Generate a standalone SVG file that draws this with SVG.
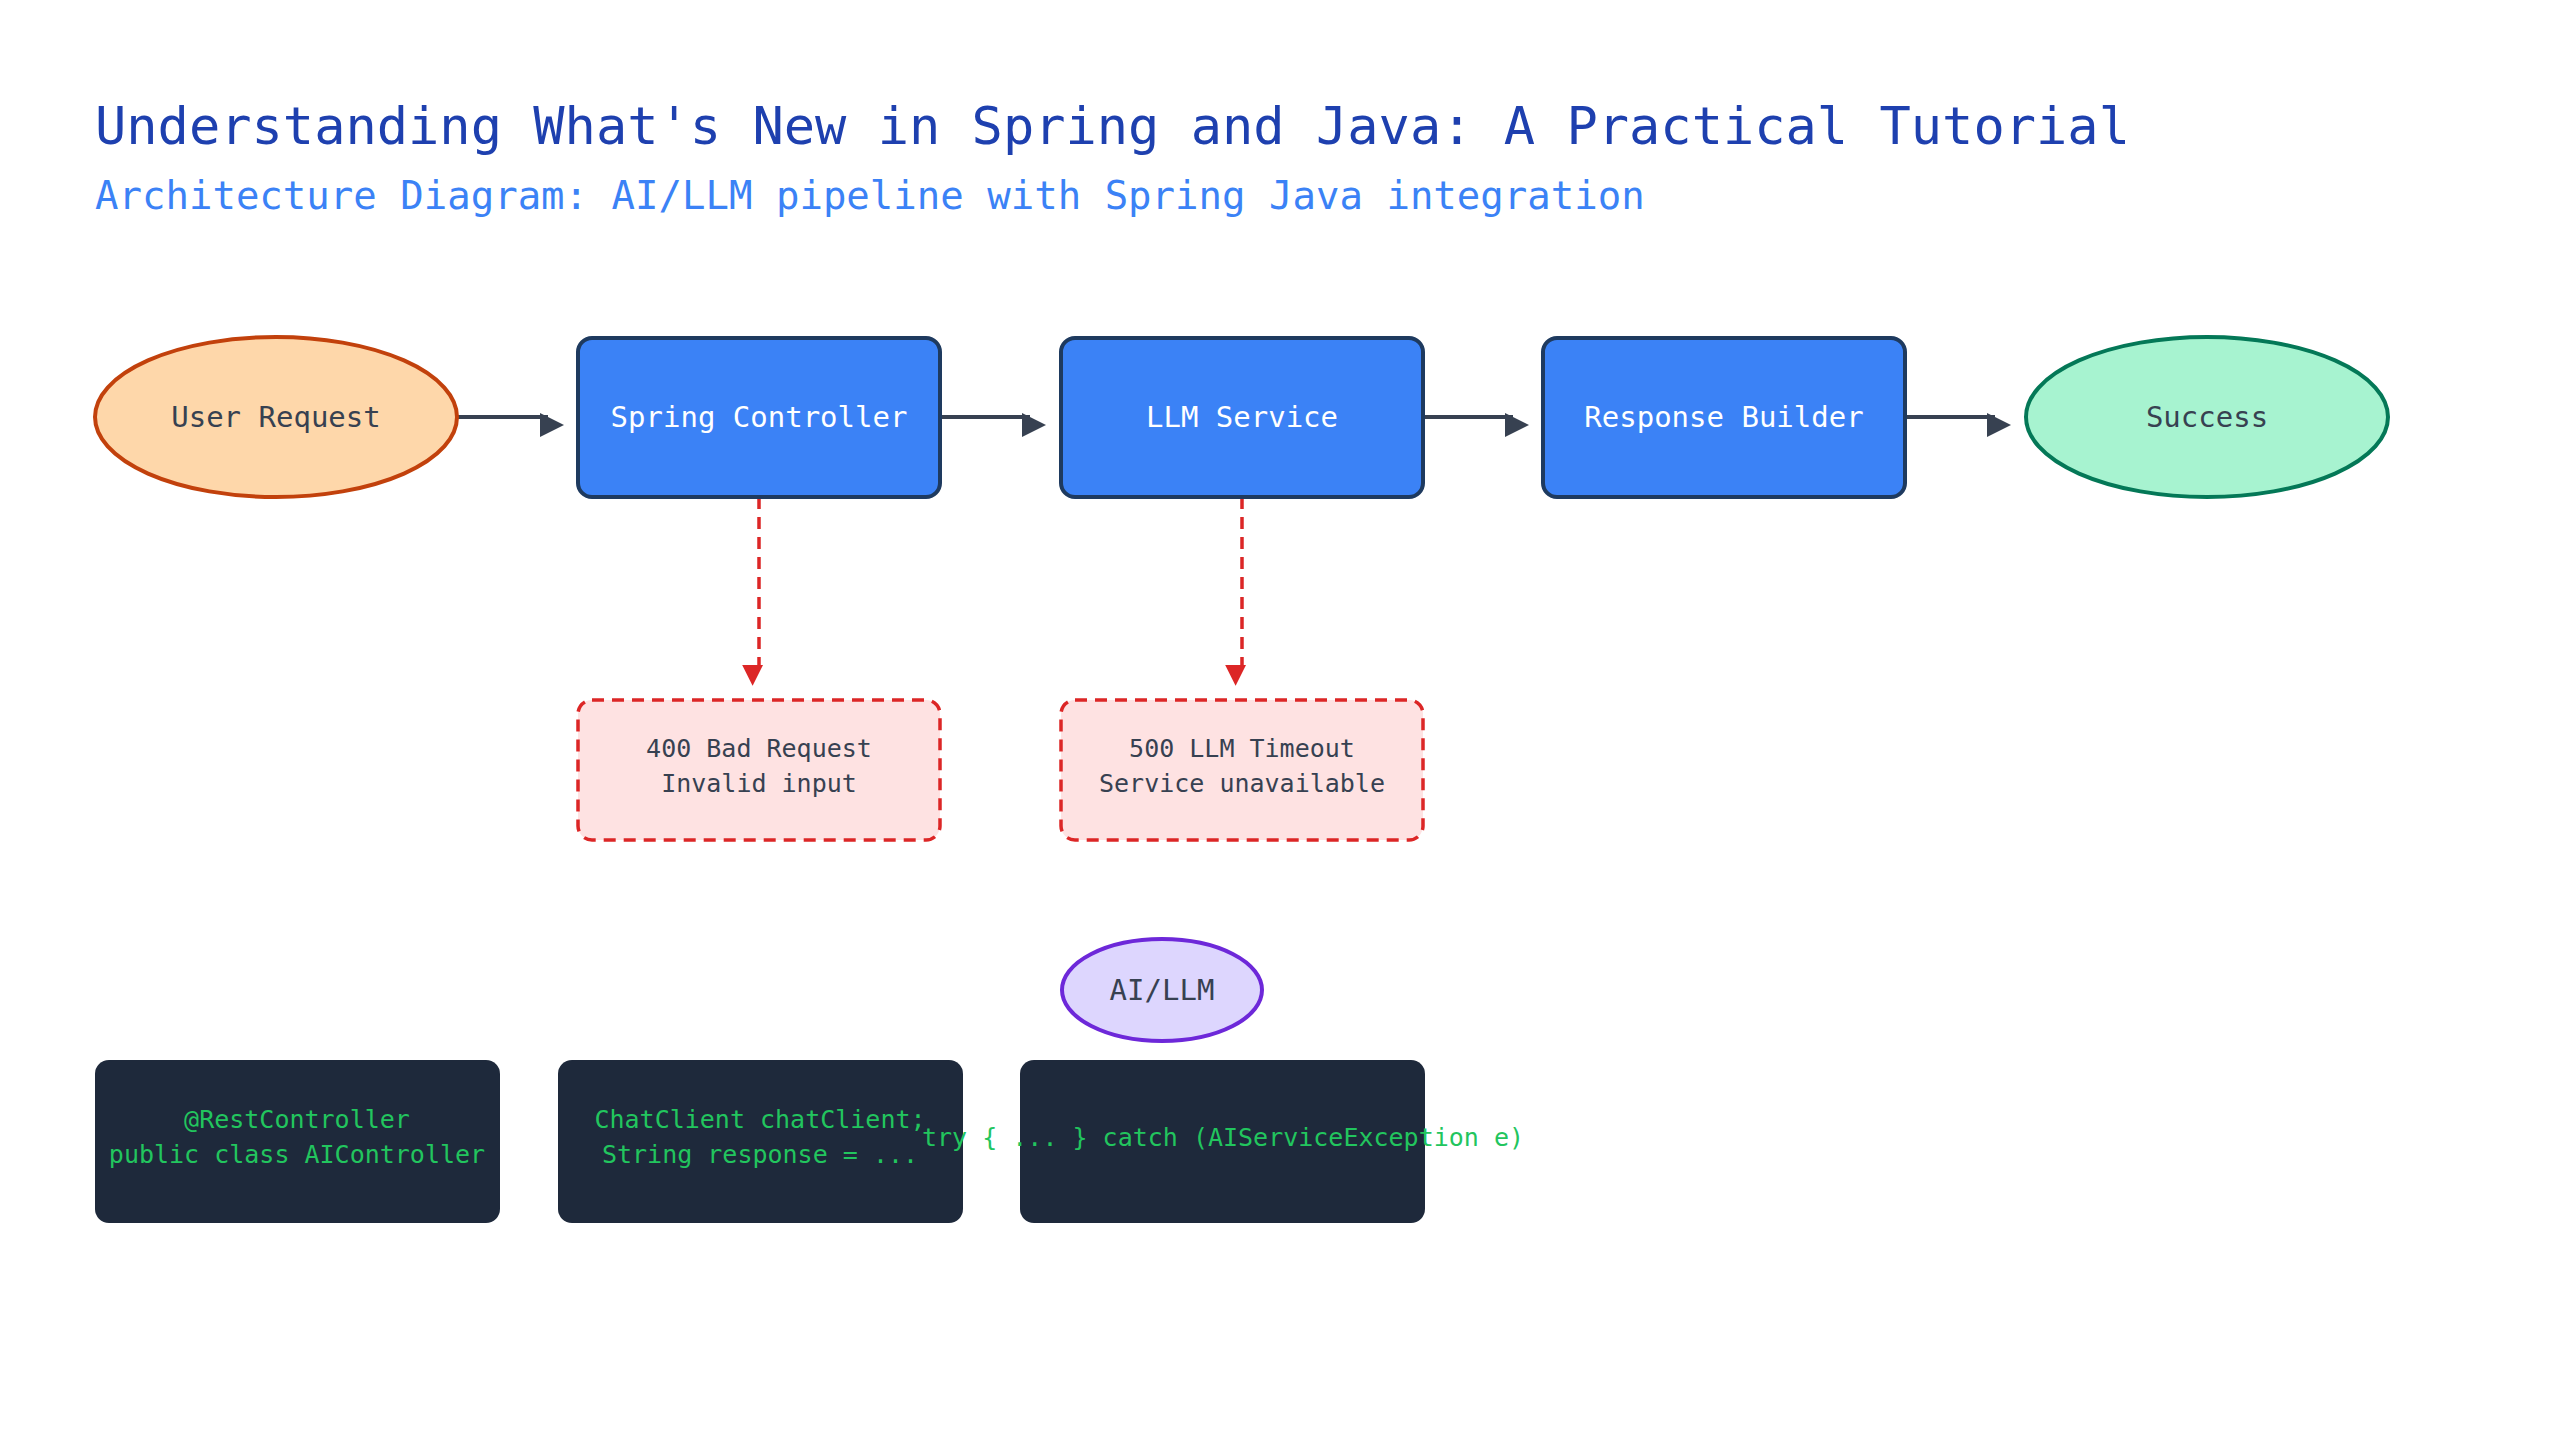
<svg xmlns="http://www.w3.org/2000/svg" width="2560" height="1440" viewBox="0 0 2560 1440">
<style>
text{font-family:"DejaVu Sans Mono","Liberation Mono",monospace;text-anchor:middle}
.t{fill:#374151;font-size:29px}
.w{fill:#ffffff;font-size:29px}
.e{fill:#374151;font-size:25px}
.c{fill:#22c55e;font-size:25px}
.proc{fill:#3b82f6;stroke:#1e3a5f;stroke-width:4}
.err{fill:#fee2e2;stroke:#dc2626;stroke-width:3.5;stroke-dasharray:12 8}
.code{fill:#1e293b}
.flow{stroke:#374151;stroke-width:4;fill:none}
.fail{stroke:#dc2626;stroke-width:3.5;stroke-dasharray:12 8;fill:none}
</style>
<defs>
<marker id="a" viewBox="0 0 10 10" refX="10" refY="5" markerWidth="8" markerHeight="8" markerUnits="userSpaceOnUse" orient="auto" style="overflow:visible"><path d="M0,0L10,5L0,10z" fill="#374151" transform="scale(3)" /></marker>
<marker id="r" viewBox="0 0 10 10" refX="10" refY="5" markerWidth="8" markerHeight="8" markerUnits="userSpaceOnUse" orient="auto" style="overflow:visible"><path d="M0,0L10,5L0,10z" fill="#dc2626" transform="scale(2.6)" /></marker>
</defs>
<rect width="2560" height="1440" fill="#ffffff"/>
<text x="95" y="144" style="text-anchor:start;font-size:52px;fill:#1e40af">Understanding What's New in Spring and Java: A Practical Tutorial</text>
<text x="95" y="209" style="text-anchor:start;font-size:39px;fill:#3b82f6">Architecture Diagram: AI/LLM pipeline with Spring Java integration</text>
<g id="connectors">
<path class="flow" d="M458,417H548" marker-end="url(#a)"/>
<path class="flow" d="M940,417H1030" marker-end="url(#a)"/>
<path class="flow" d="M1423,417H1513" marker-end="url(#a)"/>
<path class="flow" d="M1905,417H1995" marker-end="url(#a)"/>
<path class="fail" d="M759,497V673" marker-end="url(#r)"/>
<path class="fail" d="M1242,497V673" marker-end="url(#r)"/>
</g>
<g id="user"><ellipse cx="276" cy="417" rx="181" ry="80" fill="#fed7aa" stroke="#c2410c" stroke-width="4"/><text class="t" x="276" y="427">User Request</text></g>
<g id="controller"><rect class="proc" x="578" y="338" width="362" height="159" rx="14"/><text class="w" x="759" y="427">Spring Controller</text></g>
<g id="llm"><rect class="proc" x="1061" y="338" width="362" height="159" rx="14"/><text class="w" x="1242" y="427">LLM Service</text></g>
<g id="builder"><rect class="proc" x="1543" y="338" width="362" height="159" rx="14"/><text class="w" x="1724" y="427">Response Builder</text></g>
<g id="success"><ellipse cx="2207" cy="417" rx="181" ry="80" fill="#a7f3d0" stroke="#047857" stroke-width="4"/><text class="t" x="2207" y="427">Success</text></g>
<g id="err400"><rect class="err" x="578" y="700" width="362" height="140" rx="14"/><text class="e" x="759" y="757">400 Bad Request</text><text class="e" x="759" y="792">Invalid input</text></g>
<g id="err500"><rect class="err" x="1061" y="700" width="362" height="140" rx="14"/><text class="e" x="1242" y="757">500 LLM Timeout</text><text class="e" x="1242" y="792">Service unavailable</text></g>
<g id="ai"><ellipse cx="1162" cy="990" rx="100" ry="51" fill="#ddd6fe" stroke="#6d28d9" stroke-width="4"/><text class="t" x="1162" y="1000">AI/LLM</text></g>
<g id="code1"><rect class="code" x="95" y="1060" width="405" height="163" rx="14"/><text class="c" x="297" y="1128">@RestController</text><text class="c" x="297" y="1163">public class AIController</text></g>
<g id="code2"><rect class="code" x="558" y="1060" width="405" height="163" rx="14"/><text class="c" x="760" y="1128">ChatClient chatClient;</text><text class="c" x="760" y="1163">String response = ...</text></g>
<g id="code3"><rect class="code" x="1020" y="1060" width="405" height="163" rx="14"/><text class="c" x="1223" y="1146">try { ... } catch (AIServiceException e)</text></g>
</svg>
